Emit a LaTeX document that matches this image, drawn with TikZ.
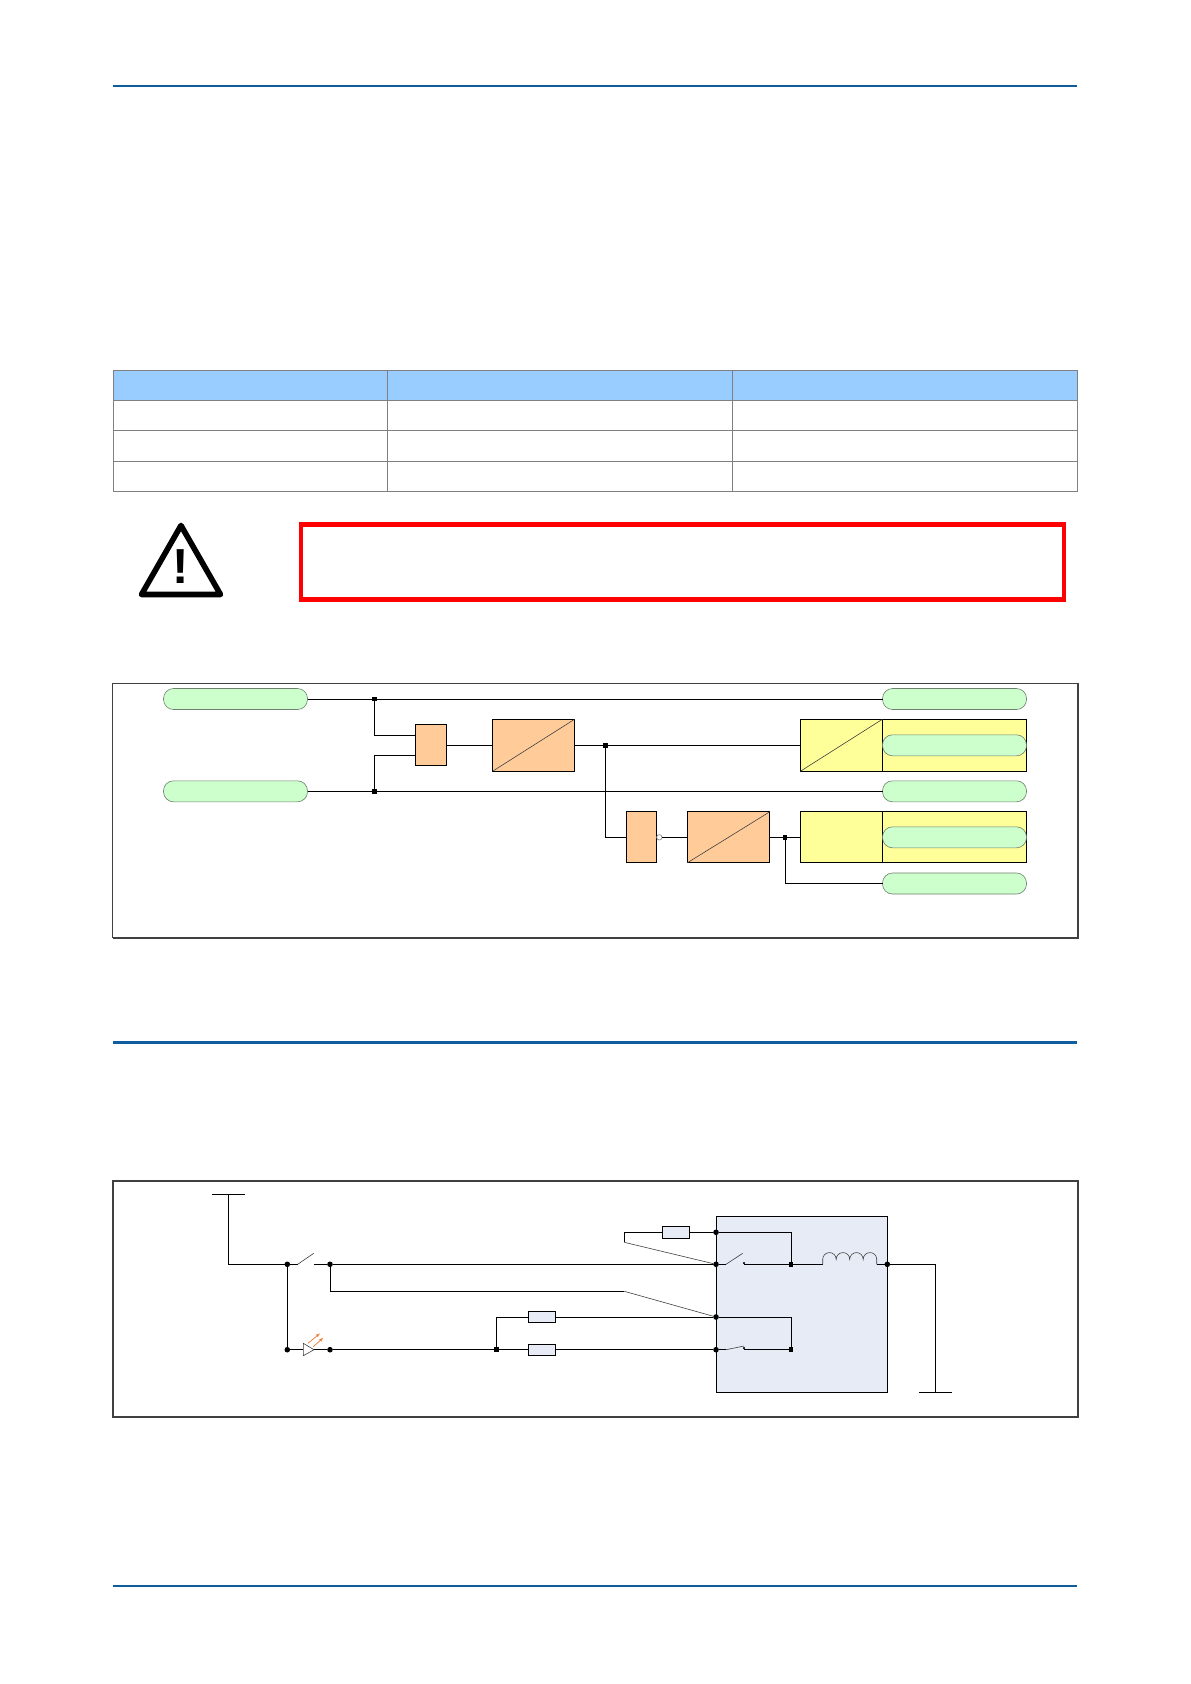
\documentclass[tikz,border=0pt]{standalone}
\usepackage{fontspec}
\setmainfont{Liberation Sans}
\definecolor{rulecol}{HTML}{0F5C9E}
\definecolor{headcol}{HTML}{99CCFF}
\definecolor{gridcol}{HTML}{808080}
\definecolor{framecol}{HTML}{404040}
\definecolor{logiccol}{HTML}{FFCC99}
\definecolor{latchcol}{HTML}{FFFF99}
\definecolor{pillcol}{HTML}{CCFFCC}
\definecolor{pilledge}{HTML}{6F7F6F}
\definecolor{relaycol}{HTML}{E6EBF5}
\definecolor{ledcol}{HTML}{ED7D31}
\begin{document}
\begin{tikzpicture}[x=0.05cm,y=0.05cm]
		\tikzstyle{every node}+=[inner sep=0pt,outer sep=0pt]
		\tikzstyle{wire}=[black,line width=0.5mm]
		\tikzstyle{thinwire}=[framecol,line width=0.3mm]
		\tikzstyle{logicbox}=[draw=black,fill=logiccol,line width=0.5mm]
		\tikzstyle{latchbox}=[draw=black,fill=latchcol,line width=0.5mm]
		\tikzstyle{signal}=[draw=pilledge,fill=pillcol,line width=0.3mm,rounded corners=0.5cm,minimum width=7.2cm,minimum height=1.05cm]
		\tikzstyle{sqdot}=[fill=black,minimum size=0.23cm]
		\tikzstyle{rnddot}=[fill=black,circle,minimum size=0.28cm]
		\tikzstyle{resistor}=[draw=black,fill=relaycol,line width=0.5mm,minimum width=1.37cm,minimum height=0.57cm]
		\useasboundingbox (0,0) rectangle (1191,-1684);
		\fill [white] (0,0) rectangle (1191,-1684);
		\draw [rulecol,line width=1mm] (113.3,-85.7) -- (1077.3,-85.7);
		\draw [rulecol,line width=1.5mm] (113.3,-1042.3) -- (1077.3,-1042.3);
		\draw [rulecol,line width=1mm] (113.3,-1585.7) -- (1077.3,-1585.7);
		\fill [headcol] (113.4,-370.3) rectangle (1077.7,-400.7);
		\draw [gridcol,line width=0.45mm] (113.4,-370.3) rectangle (1077.7,-491.3);
		\draw [gridcol,line width=0.45mm] (113.4,-400.7) -- (1077.7,-400.7);
		\draw [gridcol,line width=0.45mm] (113.4,-430.3) -- (1077.7,-430.3);
		\draw [gridcol,line width=0.45mm] (113.4,-461.3) -- (1077.7,-461.3);
		\draw [gridcol,line width=0.45mm] (387.6,-370.3) -- (387.6,-491.3);
		\draw [gridcol,line width=0.45mm] (732.7,-370.3) -- (732.7,-491.3);
		\draw [black,line width=2.8mm,line join=round] (141.5,-594.5) -- (181,-525.5) -- (220.5,-594.5) -- cycle;
		\node [anchor=base] (warnmark) at (181,-583.3) {\fontsize{70}{70}\selectfont\bfseries !};
		\draw [red,line width=2.2mm] (301.2,-524.5) rectangle (1064,-599.5);
		\draw [framecol,line width=0.6mm] (112.5,-683.7) rectangle (1078.3,-937.7);
		\draw [framecol,line width=1.1mm] (112.5,-937.7) -- (1078.3,-937.7) -- (1078.3,-683.7);
		\node [signal] (inA) at (235.5,-699) {};
		\node [signal] (inB) at (235.5,-791.3) {};
		\node [sqdot] (juncA) at (374.6,-699) {};
		\node [sqdot] (juncB) at (374.6,-791.3) {};
		\node [logicbox,minimum width=1.55cm,minimum height=2.05cm] (gateA) at (431.2,-745.3) {};
		\node [logicbox,minimum width=4.1cm,minimum height=2.6cm] (timerA) at (533.5,-745.3) {};
		\node [sqdot] (juncC) at (605.4,-745.3) {};
		\node [latchbox,minimum width=4.1cm,minimum height=2.6cm] (latchA) at (841.3,-745.3) {};
		\node [latchbox,minimum width=7.2cm,minimum height=2.6cm] (latchAb) at (954.3,-745.3) {};
		\node [logicbox,minimum width=1.52cm,minimum height=2.55cm] (gateB) at (641.5,-837.3) {};
		\node [circle,draw=gridcol,fill=white,line width=0.3mm,minimum size=0.27cm] (invB) at (659.3,-837.3) {};
		\node [logicbox,minimum width=4.12cm,minimum height=2.55cm] (timerB) at (728.5,-837.3) {};
		\node [sqdot] (juncD) at (785,-837.3) {};
		\node [latchbox,minimum width=4.1cm,minimum height=2.55cm] (latchB) at (841.3,-837.3) {};
		\node [latchbox,minimum width=7.2cm,minimum height=2.55cm] (latchBb) at (954.3,-837.3) {};
		\node [signal] (outA) at (954.5,-699) {};
		\node [signal] (outB) at (954.5,-745.3) {};
		\node [signal] (outC) at (954.5,-791.3) {};
		\node [signal] (outD) at (954.5,-837.3) {};
		\node [signal] (outE) at (954.5,-883.5) {};
		\coordinate (gateAa) at (415.7,-735.3);
		\coordinate (gateAb) at (415.7,-755.3);
		\draw [wire] (inA.east) -- (juncA) -- (outA.west);
		\draw [wire] (inB.east) -- (juncB) -- (outC.west);
		\draw [wire] (juncA) |- (gateAa);
		\draw [wire] (juncB) |- (gateAb);
		\draw [wire] (gateA.east) -- (timerA.west);
		\draw [wire] (timerA.east) -- (juncC) -- (latchA.west);
		\draw [wire] (juncC) |- (gateB.west);
		\draw [wire] (invB.east) -- (timerB.west);
		\draw [wire] (timerB.east) -- (latchB.west);
		\draw [wire] (juncD) |- (outE.west);
		\draw [thinwire] (timerA.south west) -- (timerA.north east);
		\draw [thinwire] (timerB.south west) -- (timerB.north east);
		\draw [thinwire] (latchA.south west) -- (latchA.north east);
		\draw [framecol,line width=0.8mm] (112.7,-1181) rectangle (1078,-1417);
		\node [draw=black,fill=relaycol,line width=0.5mm,minimum width=8.57cm,minimum height=8.8cm] (relay) at (802,-1304.3) {};
		\coordinate (railAl) at (212.3,-1194.3);
		\coordinate (railAr) at (244.7,-1194.3);
		\coordinate (railAm) at (228.3,-1194.3);
		\coordinate (railBl) at (919,-1392.3);
		\coordinate (railBr) at (951.7,-1392.3);
		\coordinate (railBm) at (935.3,-1392.3);
		\node [rnddot] (dotA) at (287.3,-1264.3) {};
		\node [rnddot] (dotB) at (330,-1264.3) {};
		\node [rnddot] (dotC) at (287.3,-1349.7) {};
		\node [rnddot] (dotD) at (330,-1349.7) {};
		\node [sqdot] (juncE) at (496.3,-1349.7) {};
		\node [resistor] (resA) at (676,-1232.3) {};
		\node [resistor] (resB) at (542,-1317) {};
		\node [resistor] (resC) at (542,-1349.7) {};
		\node [rnddot] (pinA) at (716,-1232.3) {};
		\node [rnddot] (pinB) at (716,-1264.3) {};
		\node [rnddot] (pinC) at (716,-1317) {};
		\node [rnddot] (pinD) at (716,-1349.7) {};
		\node [rnddot] (pinE) at (887.3,-1264.3) {};
		\node [sqdot] (juncF) at (791,-1264.3) {};
		\node [sqdot] (juncG) at (791,-1349.7) {};
		\coordinate (swAa) at (297.7,-1264.3);
		\coordinate (swAb) at (313.7,-1253.3);
		\coordinate (swAc) at (314,-1264.3);
		\coordinate (cornA) at (624.3,-1232.3);
		\coordinate (cornB) at (624.3,-1242.3);
		\coordinate (cornC) at (624.3,-1291.3);
		\coordinate (swBa) at (726,-1264.3);
		\coordinate (swBb) at (742.7,-1253.3);
		\coordinate (swBc) at (744,-1264.3);
		\coordinate (swCa) at (726,-1349.7);
		\coordinate (swCb) at (744,-1346);
		\coordinate (swCc) at (744,-1349.7);
		\coordinate (coilA) at (822.7,-1264.3);
		\coordinate (coilB) at (876.7,-1264.3);
		\coordinate (ledA) at (303.3,-1349.7);
		\coordinate (ledB) at (314,-1349.7);
		\draw [wire] (railAl) -- (railAr);
		\draw [wire] (railAm) |- (dotA);
		\draw [wire] (dotA) -- (swAa);
		\draw [thinwire] (swAa) -- (swAb);
		\draw [wire] (swAc) -- (dotB) -- (pinB);
		\draw [wire] (dotA) -- (dotC) -- (ledA);
		\draw [thinwire,fill=white] (ledA) -- (303.3,-1343.3) -- (ledB) -- (303.3,-1355.7) -- cycle;
		\draw [wire] (ledB) -- (dotD) -- (juncE) -- (resC.west);
		\draw [ledcol,line width=0.35mm,-latex] (308,-1343.3) -- (320,-1333.3);
		\draw [ledcol,line width=0.35mm,-latex] (313.3,-1346.7) -- (323.3,-1337.7);
		\draw [wire] (juncE) |- (resB.west);
		\draw [wire] (resB.east) -- (pinC);
		\draw [wire] (resC.east) -- (pinD);
		\draw [wire] (dotB) |- (cornC);
		\draw [thinwire] (cornC) -- (pinC);
		\draw [wire] (cornB) -- (cornA) -- (resA.west);
		\draw [wire] (resA.east) -- (pinA);
		\draw [thinwire] (cornB) -- (pinB);
		\draw [wire] (pinA) -| (juncF);
		\draw [wire] (pinC) -| (juncG);
		\draw [wire] (pinB) -- (swBa);
		\draw [thinwire] (swBa) -- (swBb);
		\draw [black,fill=black] (744,-1263) circle (1);
		\draw [wire] (swBc) -- (juncF) -- (coilA);
		\draw [thinwire] (coilA) -- ++(0,5) \foreach \n in {1,...,4} {arc (180:0:6.75)} -- (coilB);
		\draw [wire] (coilB) -- (pinE);
		\draw [wire] (pinE) -| (railBm);
		\draw [wire] (railBl) -- (railBr);
		\draw [wire] (pinD) -- (swCa);
		\draw [thinwire] (swCa) -- (swCb);
		\draw [black,fill=black] (744,-1348) circle (1);
		\draw [wire] (swCc) -- (juncG);
	\end{tikzpicture}
\end{document}
